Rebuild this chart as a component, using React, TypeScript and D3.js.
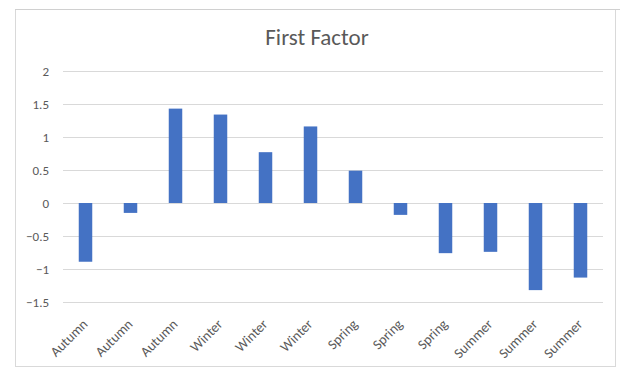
import React from "react";
import * as d3 from "d3";

const categories = ["Autumn", "Autumn", "Autumn", "Winter", "Winter", "Winter", "Spring", "Spring", "Spring", "Summer", "Summer", "Summer"];
const values = [-0.89, -0.15, 1.43, 1.34, 0.77, 1.16, 0.49, -0.18, -0.76, -0.74, -1.32, -1.13];
const yTicks = [-1.5, -1, -0.5, 0, 0.5, 1, 1.5, 2];
const title = "First Factor";

const W = 620;
const H = 369;
const plot = { left: 63, right: 603, top: 71, bottom: 302 };
const FONT = "Calibri, Carlito, Lato, 'Open Sans', sans-serif";
const TEXT = "#595959";

export default function App() {
  const x = d3
    .scaleBand<number>()
    .domain(d3.range(values.length))
    .range([plot.left, plot.right])
    .paddingInner(0.7)
    .paddingOuter(0.35);
  const y = d3.scaleLinear().domain([-1.5, 2]).range([plot.bottom, plot.top]);

  return (
    <svg
      width={W}
      height={H}
      style={{ position: "absolute", left: 0, top: 0, background: "#fff" }}
      fontFamily={FONT}
    >
      <rect x={0} y={0} width={W} height={H} fill="#fff" />
      <rect x={15.5} y={9.5} width={600} height={357} fill="#fff" stroke="#d9d9d9" />
      <line x1={15} x2={W} y1={9.5} y2={9.5} stroke="#d0d0d0" />
      <text x={317} y={45} textAnchor="middle" fontSize={23} fill={TEXT}>
        {title}
      </text>
      {yTicks.map((t) => (
        <g key={t}>
          <line x1={plot.left} x2={plot.right} y1={Math.round(y(t)) + 0.5} y2={Math.round(y(t)) + 0.5} stroke="#d9d9d9" />
          <text x={49} y={y(t)} dy="0.35em" textAnchor="end" fontSize={13} fill={TEXT}>
            {d3.format("")(t)}
          </text>
        </g>
      ))}
      {values.map((v, i) => (
        <rect
          key={i}
          x={x(i)}
          width={x.bandwidth()}
          y={Math.min(y(v), y(0))}
          height={Math.abs(y(v) - y(0))}
          fill="#4472c4"
        />
      ))}
      {categories.map((c, i) => {
        const cx = (x(i) ?? 0) + x.bandwidth() / 2;
        return (
          <text
            key={i}
            transform={`translate(${cx + 3},${325}) rotate(-45)`}
            textAnchor="end"
            fontSize={14}
            fill={TEXT}
          >
            {c}
          </text>
        );
      })}
    </svg>
  );
}
